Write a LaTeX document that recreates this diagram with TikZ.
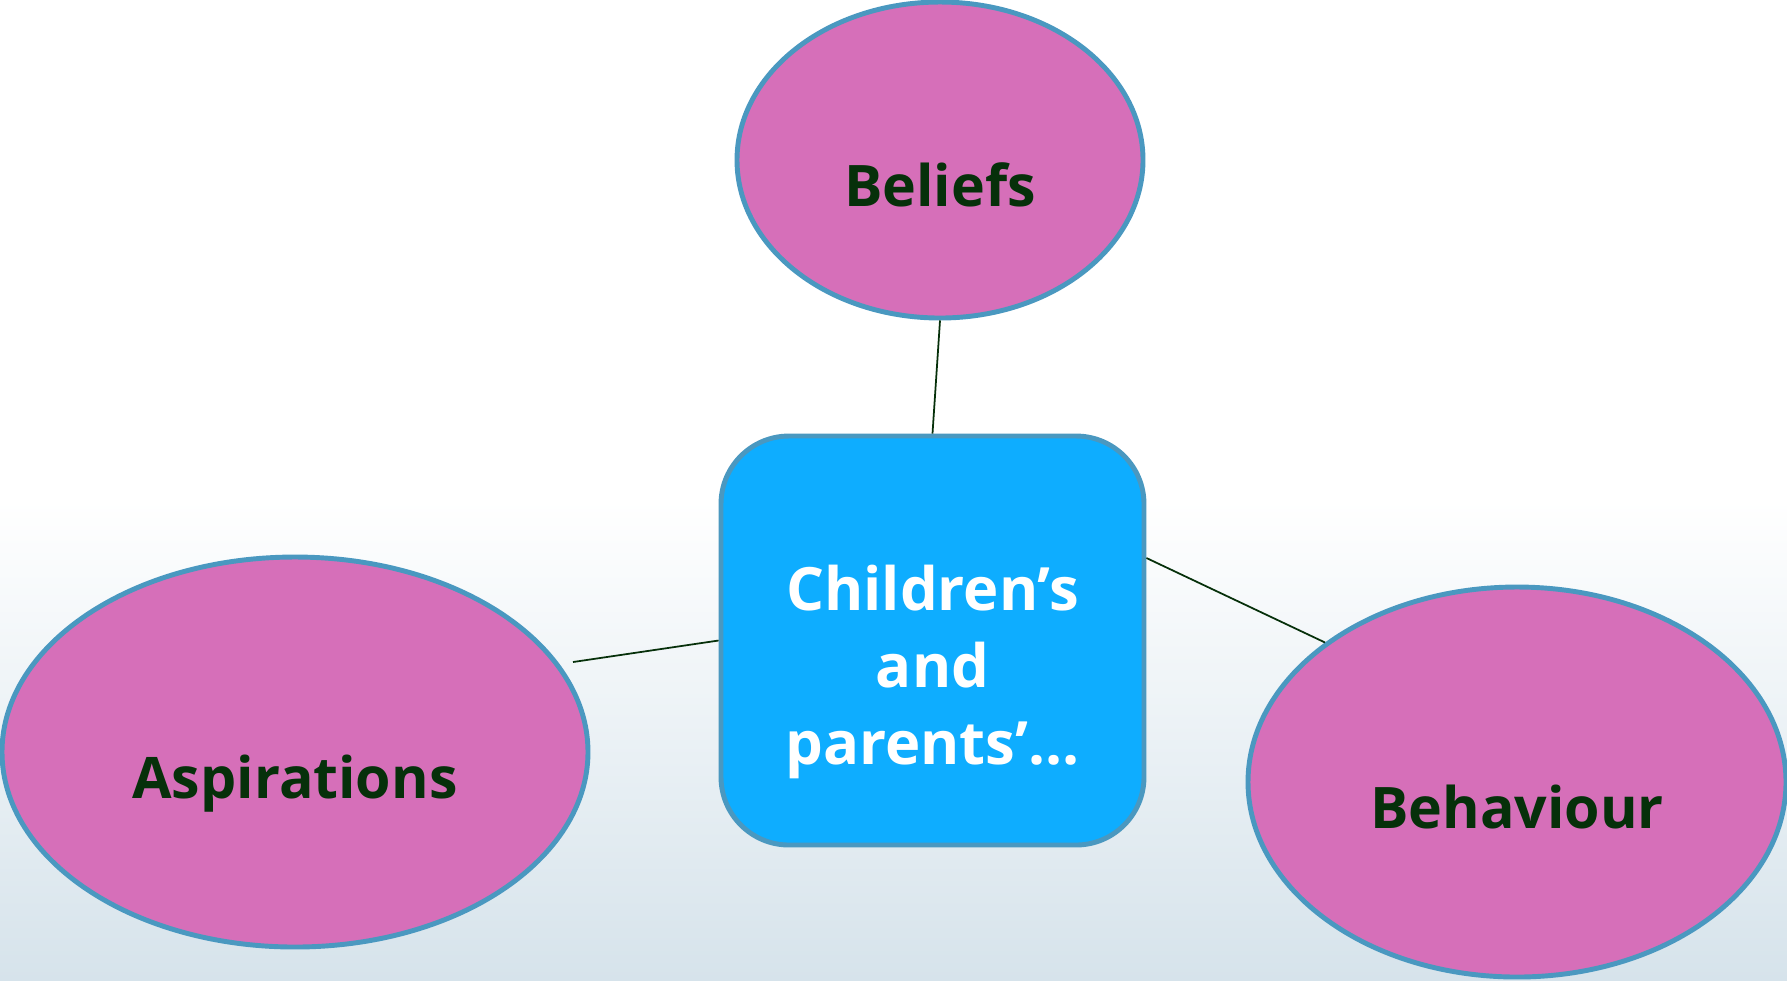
\documentclass[tikz,border=0pt]{standalone}
\usepackage{fontspec}
\setmainfont{Open Sans}
\usepackage{tikz}
\usetikzlibrary{positioning, shapes.geometric, calc, backgrounds}
\definecolor{Orchid}{HTML}{D66FB9}
\definecolor{Rim}{HTML}{4A98C0}
\definecolor{Sky}{HTML}{0EADFF}
\definecolor{Ink}{HTML}{06300A}
\definecolor{Mist}{HTML}{D6E3EB}

\begin{document}
\begin{tikzpicture}[
        idea/.style={ellipse, draw=Rim, line width=1.4pt, fill=Orchid, inner sep=0pt,
                     text height=0.93cm, text depth=0cm,
                     text=Ink, font=\fontsize{16.3}{20}\selectfont\bfseries},
        core/.style={rectangle, rounded corners=0.68cm, draw=Rim, line width=1.4pt, fill=Sky,
                     minimum width=4.23cm, minimum height=4.09cm, inner sep=0pt},
        coretext/.style={text=white, align=center, font=\fontsize{17}{21.9}\selectfont\bfseries},
        link/.style={draw=Ink, line width=0.5pt}
    ]
        % backdrop
        \useasboundingbox (0,0) rectangle (17.87,-9.80);
        \fill[white] (0,0) rectangle (17.87,-5.0);
        \shade[top color=white, bottom color=Mist] (0,-5.0) rectangle (17.87,-9.80);

        % nodes
        \node[core] (box) at (9.325,-6.405) {};
        \node[coretext] (boxtext) at ([yshift=-0.31cm]box.center) {Children’s\\and\\parents’\ldots};
        \node[idea, minimum width=4.06cm, minimum height=3.16cm] (beliefs) at (9.40,-1.60) {Beliefs};
        \node[idea, minimum width=5.86cm, minimum height=3.90cm] (aspir) at (2.95,-7.52) {Aspirations};
        \node[idea, minimum width=5.38cm, minimum height=3.90cm] (behav) at (15.17,-7.82) {Behaviour};
        \coordinate (aspend) at (5.73,-6.62);

        % links
        \draw[link] (beliefs.south) -- (box.north);
        \draw[link] (box.west) -- (aspend);
        \draw[link] ([yshift=0.825cm]box.east) -- (behav.144);
\end{tikzpicture}
\end{document}
